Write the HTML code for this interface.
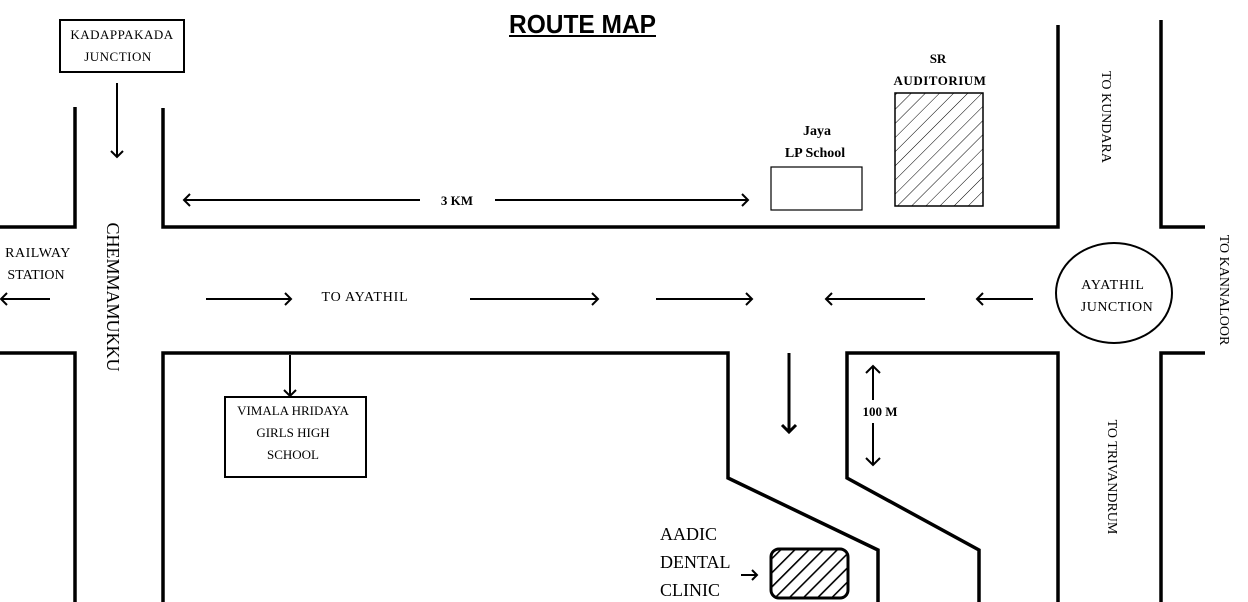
<!DOCTYPE html>
<html><head><meta charset="utf-8"><style>
html,body{margin:0;padding:0;background:#fff;}
svg{display:block;}
text{font-family:"Liberation Serif",serif;fill:#000;}
</style></head><body>
<svg width="1248" height="602" viewBox="0 0 1248 602" xmlns="http://www.w3.org/2000/svg">
<defs>
<pattern id="h1" patternUnits="userSpaceOnUse" width="10" height="10" patternTransform="rotate(45)">
<line x1="0" y1="0" x2="0" y2="10" stroke="#000" stroke-width="1"/>
</pattern>
<pattern id="h2" patternUnits="userSpaceOnUse" width="10" height="10" patternTransform="rotate(45)">
<line x1="0" y1="0" x2="0" y2="10" stroke="#000" stroke-width="3.2"/>
</pattern>
</defs>

<text x="509" y="33" font-weight="bold" font-size="26" textLength="147" lengthAdjust="spacingAndGlyphs" style="font-family:'Liberation Sans',sans-serif">ROUTE MAP</text>
<line x1="509" y1="36" x2="656" y2="36" stroke="#000" stroke-width="2"/>

<g stroke="#000" stroke-width="3.5" fill="none">
<polyline points="75,107 75,227 0,227"/>
<polyline points="163,108 163,227 1058,227 1058,25"/>
<polyline points="1161,20 1161,227 1205,227"/>
<polyline points="0,353 75,353 75,602"/>
<polyline points="163,602 163,353 728,353 728,478 878,550 878,602"/>
<polyline points="979,602 979,550 847,478 847,353 1058,353 1058,602"/>
<polyline points="1205,353 1161,353 1161,602"/>
</g>

<rect x="60" y="20" width="124" height="52" fill="none" stroke="#000" stroke-width="2"/>
<text x="122" y="39" font-size="13" text-anchor="middle" letter-spacing="0.5">KADAPPAKADA</text>
<text x="118" y="61" font-size="13" text-anchor="middle" letter-spacing="0.5">JUNCTION</text>

<rect x="225" y="397" width="141" height="80" fill="none" stroke="#000" stroke-width="2"/>
<text x="293" y="415" font-size="13" text-anchor="middle">VIMALA HRIDAYA</text>
<text x="293" y="437" font-size="13" text-anchor="middle">GIRLS HIGH</text>
<text x="293" y="459" font-size="13" text-anchor="middle">SCHOOL</text>

<rect x="771" y="167" width="91" height="43" fill="none" stroke="#000" stroke-width="1.2"/>
<text x="817" y="135" font-size="14" text-anchor="middle" font-weight="bold">Jaya</text>
<text x="815" y="157" font-size="14" text-anchor="middle" font-weight="bold">LP School</text>

<rect x="895" y="93" width="88" height="113" fill="url(#h1)" stroke="#000" stroke-width="1.5"/>
<text x="938" y="63" font-size="13" text-anchor="middle" font-weight="bold">SR</text>
<text x="940" y="85" font-size="13" text-anchor="middle" font-weight="bold" letter-spacing="0.5">AUDITORIUM</text>

<rect x="771" y="549" width="77" height="49" rx="8" fill="url(#h2)" stroke="#000" stroke-width="3"/>
<text x="660" y="540" font-size="18">AADIC</text>
<text x="660" y="568" font-size="18">DENTAL</text>
<text x="660" y="596" font-size="18">CLINIC</text>

<ellipse cx="1114" cy="293" rx="58" ry="50" fill="none" stroke="#000" stroke-width="2"/>
<text x="1113" y="289" font-size="14" text-anchor="middle" letter-spacing="0.8">AYATHIL</text>
<text x="1117" y="311" font-size="14" text-anchor="middle" letter-spacing="0.5">JUNCTION</text>

<text x="38" y="257" font-size="14" text-anchor="middle" letter-spacing="0.5">RAILWAY</text>
<text x="36" y="279" font-size="14" text-anchor="middle">STATION</text>
<text x="365" y="301" font-size="14" text-anchor="middle" letter-spacing="0.8">TO AYATHIL</text>
<text x="457" y="205" font-size="13" text-anchor="middle" font-weight="bold">3 KM</text>
<text x="880" y="416" font-size="13" text-anchor="middle" font-weight="bold">100 M</text>

<text transform="translate(107,297) rotate(90)" font-size="18" text-anchor="middle">CHEMMAMUKKU</text>
<text transform="translate(1102,117) rotate(90)" font-size="14" text-anchor="middle">TO KUNDARA</text>
<text transform="translate(1220,290) rotate(90)" font-size="14" text-anchor="middle">TO KANNALOOR</text>
<text transform="translate(1108,477) rotate(90)" font-size="14" text-anchor="middle">TO TRIVANDRUM</text>

<g stroke="#000" stroke-width="2" fill="none">
<line x1="117" y1="83" x2="117" y2="157"/><polyline points="111,151 117,157 123,151"/>
<line x1="50" y1="299" x2="1" y2="299"/><polyline points="7,293 1,299 7,305"/>
<line x1="420" y1="200" x2="184" y2="200"/><polyline points="190,194 184,200 190,206"/>
<line x1="495" y1="200" x2="748" y2="200"/><polyline points="742,194 748,200 742,206"/>
<line x1="206" y1="299" x2="291" y2="299"/><polyline points="285,293 291,299 285,305"/>
<line x1="470" y1="299" x2="598" y2="299"/><polyline points="592,293 598,299 592,305"/>
<line x1="656" y1="299" x2="752" y2="299"/><polyline points="746,293 752,299 746,305"/>
<line x1="925" y1="299" x2="826" y2="299"/><polyline points="832,293 826,299 832,305"/>
<line x1="1033" y1="299" x2="977" y2="299"/><polyline points="983,293 977,299 983,305"/>
<line x1="290" y1="355" x2="290" y2="396"/><polyline points="284,390 290,396 296,390"/>
<line x1="789" y1="353" x2="789" y2="432" stroke-width="3"/><polyline points="782,425 789,432 796,425" stroke-width="3"/>
<line x1="873" y1="366" x2="873" y2="400"/><polyline points="866,373 873,366 880,373"/>
<line x1="873" y1="423" x2="873" y2="465"/><polyline points="866,458 873,465 880,458"/>
<line x1="741" y1="575" x2="757" y2="575"/><polyline points="752,570 757,575 752,580"/>
</g>
</svg>
</body></html>
